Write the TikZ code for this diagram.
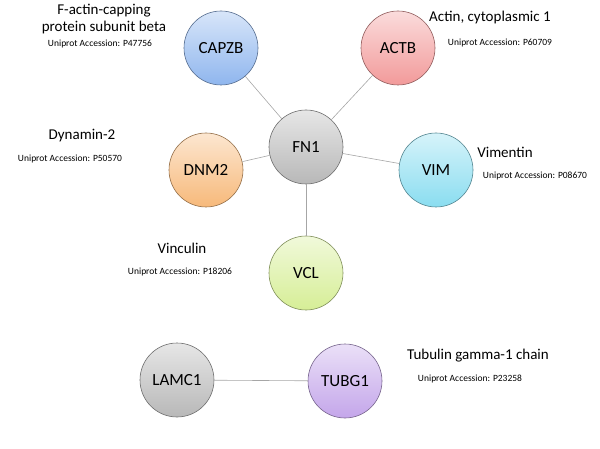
\documentclass[tikz,border=0pt]{standalone}
\usepackage{fontspec}
\setmainfont{Carlito}
\begin{document}
\begin{tikzpicture}[x=1pt,y=-1pt,
 prot/.style={circle,minimum size=74pt,draw=#1!60!black,line width=0.6pt,top color=#1!35!white,bottom color=#1,font=\fontsize{17}{19}\selectfont},
 lbl/.style={font=\fontsize{15}{17}\selectfont,align=center},
 acc/.style={font=\fontsize{9.5}{11}\selectfont},
 edge/.style={draw=black!35,line width=0.6pt}]
\useasboundingbox (0,0) rectangle (600,449);
\definecolor{cb}{HTML}{8FB6EE}\definecolor{cr}{HTML}{F29A9A}\definecolor{cg}{HTML}{B8B8B8}
\definecolor{co}{HTML}{F7B97A}\definecolor{cc}{HTML}{8ADDF0}\definecolor{cl}{HTML}{D6EE96}
\definecolor{cp}{HTML}{C4A6EA}
\node[prot=cb] (capzb) at (221,48) {CAPZB};
\node[prot=cr] (actb) at (398,48) {ACTB};
\node[prot=cg] (fn1) at (306,147) {FN1};
\node[prot=co] (dnm2) at (206,170) {DNM2};
\node[prot=cc] (vim) at (436,170) {VIM};
\node[prot=cl] (vcl) at (306,273) {VCL};
\node[prot=cg] (lamc1) at (177,380) {LAMC1};
\node[prot=cp] (tubg1) at (345,381) {TUBG1};
\path[edge] (fn1)--(capzb); \path[edge] (fn1)--(actb); \path[edge] (fn1)--(dnm2);
\path[edge] (fn1)--(vim); \path[edge] (fn1)--(vcl); \path[edge] (lamc1)--(tubg1);
\node[lbl] (l1) at (104,19) {F-actin-capping\\protein subunit beta};
\node[acc] (a1) at (100,44) {Uniprot Accession: P47756};
\node[lbl] (l2) at (490,18) {Actin, cytoplasmic 1};
\node[acc] (a2) at (500,43) {Uniprot Accession: P60709};
\node[lbl] (l3) at (82,136) {Dynamin-2};
\node[acc] (a3) at (70,159) {Uniprot Accession: P50570};
\node[lbl] (l4) at (505,152) {Vimentin};
\node[acc] (a4) at (535,176) {Uniprot Accession: P08670};
\node[lbl] (l5) at (182,248) {Vinculin};
\node[acc] (a5) at (180,272) {Uniprot Accession: P18206};
\node[lbl] (l6) at (478,356) {Tubulin gamma-1 chain};
\node[acc] (a6) at (470,379) {Uniprot Accession: P23258};
\end{tikzpicture}
\end{document}
